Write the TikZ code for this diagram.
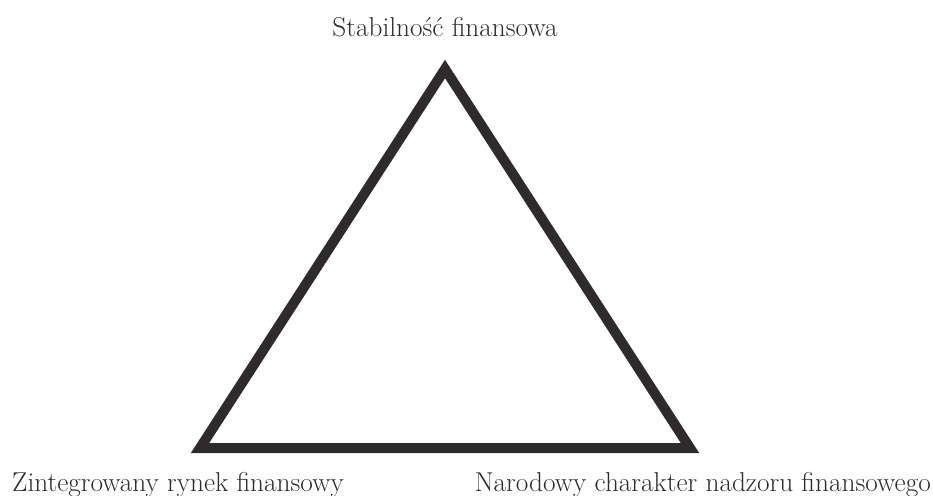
\documentclass[tikz,border=0pt]{standalone}
\usepackage{fontspec}
\setmainfont{Latin Modern Roman}
\definecolor{ink}{HTML}{2D2B2C}
\begin{document}
\begin{tikzpicture}[x=1pt,y=1pt,
  lbl/.style={inner sep=0pt, text=ink, font=\fontsize{27.3}{32}\selectfont},
  tri/.style={draw=ink, line width=10pt, line join=miter}]
\useasboundingbox (0,0) rectangle (933,-495);
\coordinate (top) at (445,-69);
\coordinate (bl) at (200,-448);
\coordinate (br) at (690,-448);
\draw[tri] (top) -- (bl) -- (br) -- cycle;
\node[lbl, anchor=base] (ltop) at (445,-37) {Stabilność finansowa};
\node[lbl, anchor=base west] (lbl) at (12,-491) {Zintegrowany rynek finansowy};
\node[lbl, anchor=base east] (lbr) at (931,-491) {Narodowy charakter nadzoru finansowego};
\end{tikzpicture}
\end{document}
